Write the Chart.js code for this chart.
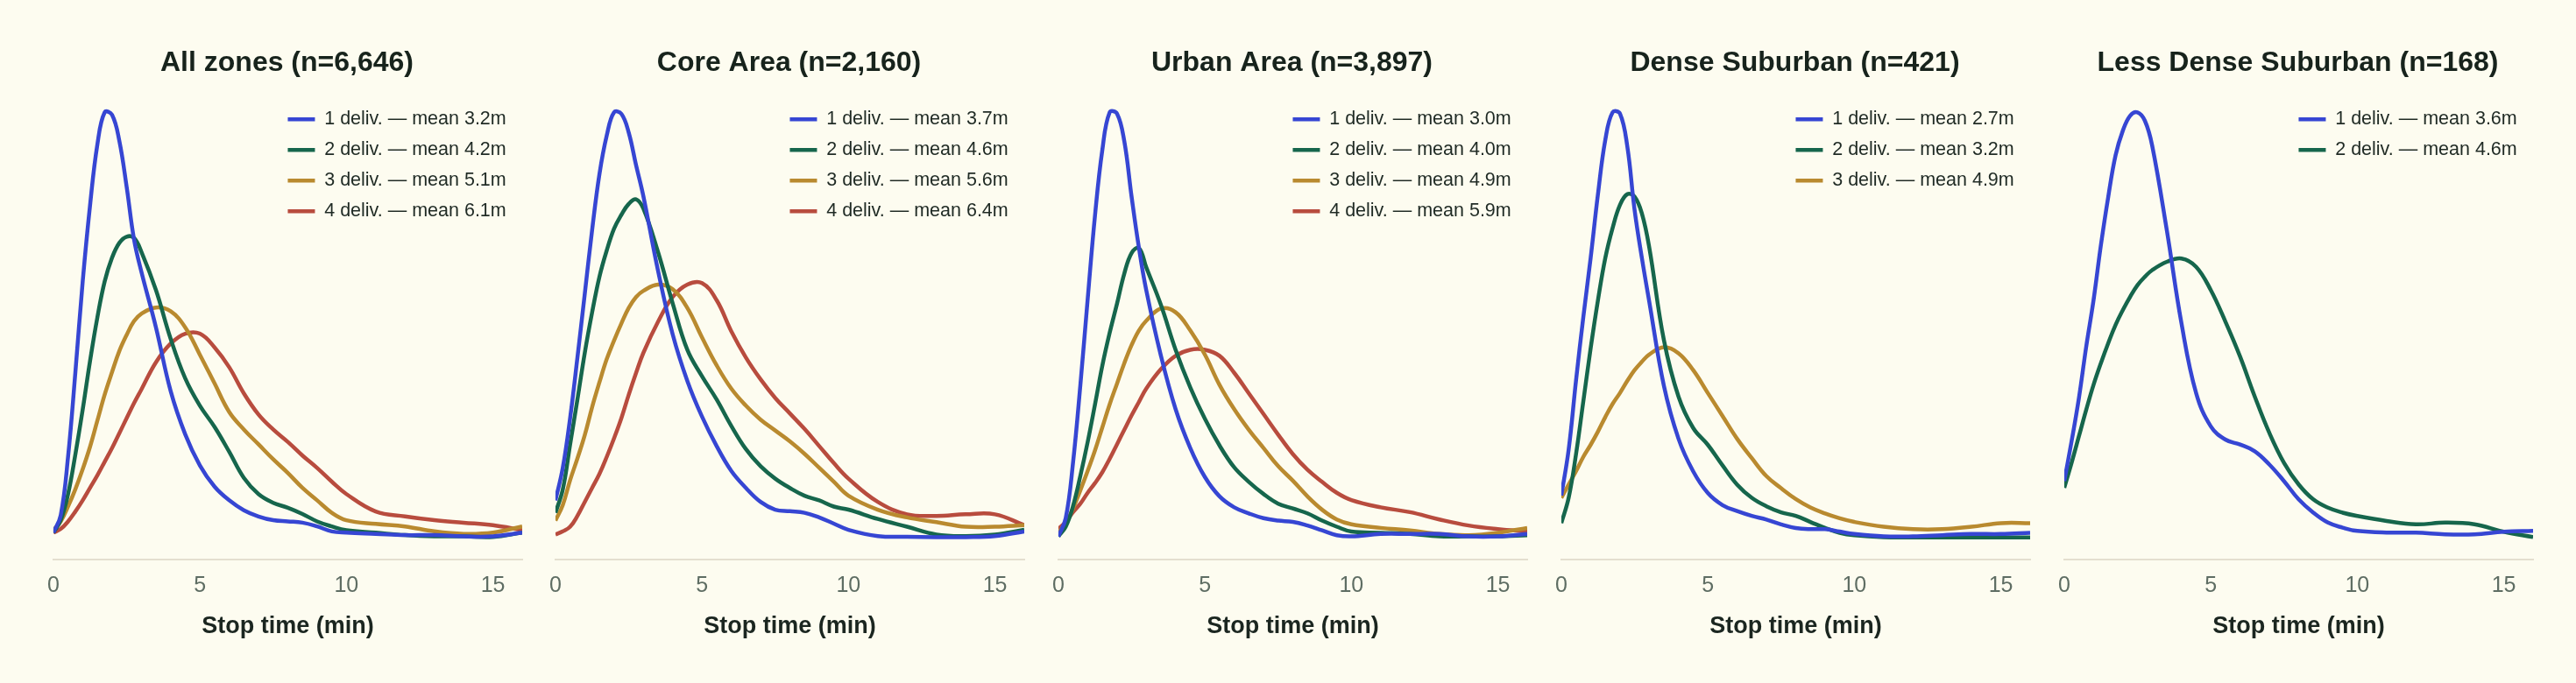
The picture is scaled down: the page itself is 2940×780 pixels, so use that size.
<!DOCTYPE html>
<html>
<head>
<meta charset="utf-8">
<title>Stop time distributions by zone</title>
<script src="https://cdn.jsdelivr.net/npm/chart.js@4.4.1/dist/chart.umd.min.js"></script>
<style>
  html, body { margin: 0; padding: 0; background: #fdfcf0; }
  #wrap { position: relative; width: 2940px; height: 780px; }
  .panel { position: absolute; top: 0; width: 573px; height: 780px; }
</style>
</head>
<body>
<div id="wrap"></div>
<script>
// x grid of the density curves (minutes)
const stopMinutes = [0, 0.25, 0.5, 0.75, 1, 1.25, 1.5, 1.75, 2, 2.25, 2.5, 2.75, 3, 3.5, 4, 4.5, 5, 5.5, 6, 6.5, 7, 7.5, 8, 8.5, 9, 9.5, 10, 11, 12, 13, 14, 15, 16];

const zoneNames = ['All zones', 'Core Area', 'Urban Area', 'Dense Suburban', 'Less Dense Suburban'];
const zoneCounts = [6646, 2160, 3897, 421, 168];

const allZonesMeans = [3.2, 4.2, 5.1, 6.1];
const coreMeans = [3.7, 4.6, 5.6, 6.4];
const urbanMeans = [3.0, 4.0, 4.9, 5.9];
const denseMeans = [2.7, 3.2, 4.9];
const lessDenseMeans = [3.6, 4.6];

// density estimates, one array per delivery count
const allZones1 = [.004, .018, .065, .133, .206, .267, .316, .342, .340, .319, .282, .240, .214, .169, .118, .083, .058, .041, .030, .022, .017, .014, .013, .012, .009, .005, .004, .003, .002, .002, .001, .001, .004];
const allZones2 = [.004, .014, .035, .067, .103, .142, .177, .206, .225, .237, .242, .241, .230, .199, .160, .128, .106, .089, .069, .048, .035, .028, .024, .019, .013, .009, .006, .004, .002, .001, .001, .0005, .004];
const allZones3 = [.006, .013, .025, .039, .055, .073, .094, .115, .133, .150, .163, .174, .180, .185, .182, .169, .147, .124, .101, .087, .075, .063, .052, .040, .030, .020, .014, .011, .009, .005, .003, .004, .009];
const allZones4 = [.004, .007, .013, .021, .030, .040, .050, .061, .072, .084, .096, .108, .119, .141, .156, .164, .164, .153, .137, .116, .099, .087, .077, .066, .056, .045, .035, .021, .017, .014, .012, .010, .006];

const core1 = [.024, .045, .077, .116, .157, .198, .234, .259, .274, .273, .261, .240, .220, .172, .131, .101, .078, .059, .043, .032, .023, .018, .017, .016, .013, .009, .005, .001, .0005, .0003, .0003, .001, .004];
const core2 = [.016, .031, .060, .089, .119, .145, .168, .185, .199, .208, .215, .218, .212, .184, .151, .121, .104, .089, .072, .057, .046, .038, .032, .027, .024, .020, .018, .012, .007, .002, .001, .002, .005];
const core3 = [.011, .021, .037, .051, .066, .084, .100, .115, .127, .138, .148, .155, .159, .163, .160, .148, .129, .111, .096, .085, .076, .069, .062, .054, .045, .036, .027, .018, .013, .010, .007, .007, .008];
const core4 = [.002, .004, .007, .014, .023, .032, .041, .052, .064, .077, .092, .106, .119, .139, .155, .163, .164, .153, .133, .116, .102, .090, .080, .070, .059, .048, .038, .023, .015, .014, .015, .015, .008];

const urban1 = [.001, .016, .062, .126, .197, .266, .320, .351, .350, .327, .281, .239, .204, .150, .106, .074, .050, .034, .025, .020, .016, .014, .013, .010, .006, .002, .001, .003, .003, .003, .001, .001, .003];
const urban2 = [.001, .009, .026, .051, .079, .110, .142, .169, .193, .218, .235, .239, .223, .192, .155, .124, .098, .076, .058, .046, .036, .028, .024, .020, .014, .009, .005, .004, .003, .001, .001, .001, .002];
const urban3 = [.004, .012, .024, .039, .055, .072, .091, .110, .127, .144, .159, .171, .179, .189, .186, .171, .151, .126, .106, .089, .074, .059, .047, .034, .023, .015, .011, .008, .006, .003, .002, .004, .008];
const urban4 = [.007, .013, .021, .028, .037, .045, .054, .065, .077, .089, .101, .112, .123, .139, .150, .155, .155, .150, .136, .119, .102, .085, .069, .056, .046, .037, .031, .025, .021, .015, .010, .007, .005];

const dense1 = [.035, .073, .130, .183, .232, .285, .330, .353, .352, .325, .272, .232, .196, .126, .082, .055, .037, .027, .022, .018, .015, .011, .008, .007, .007, .005, .003, .001, .001, .002, .003, .003, .004];
const dense2 = [.012, .033, .069, .113, .157, .197, .232, .257, .276, .285, .283, .269, .241, .164, .117, .091, .077, .060, .044, .033, .026, .021, .018, .013, .008, .004, .002, .0004, .0002, .0002, .0002, .0002, .0002];
const dense3 = [.033, .044, .055, .067, .077, .088, .100, .111, .120, .130, .139, .146, .152, .158, .153, .139, .120, .101, .082, .066, .051, .041, .032, .025, .020, .016, .013, .009, .007, .007, .009, .012, .012];

const lessDense1 = [.034, .058, .084, .115, .143, .176, .205, .230, .245, .254, .256, .251, .236, .185, .129, .087, .067, .059, .056, .052, .044, .034, .023, .015, .009, .006, .004, .003, .003, .002, .002, .0035, .004];
const lessDense2 = [.030, .045, .061, .077, .092, .105, .117, .128, .137, .145, .152, .157, .161, .166, .168, .163, .149, .130, .109, .085, .063, .045, .032, .023, .018, .015, .013, .010, .008, .009, .008, .0035, .0003];

const deliveryColors = ['#3646d3', '#16664c', '#b98a2f', '#b84c3e'];

const zoneCurves = [
    [allZones1, allZones2, allZones3, allZones4],
    [core1, core2, core3, core4],
    [urban1, urban2, urban3, urban4],
    [dense1, dense2, dense3],
    [lessDense1, lessDense2]
];
const zoneMeans = [allZonesMeans, coreMeans, urbanMeans, denseMeans, lessDenseMeans];

const fontFamily = '"Liberation Sans", Arial, Helvetica, sans-serif';

// legend sits inside the plot, near the top right
const placeLegend = {
    id: 'placeLegend',
    afterLayout(chart) {
        const legend = chart.legend;
        const area = chart.chartArea;
        legend.left = area.left + 254;
        legend.right = legend.left + legend.width;
        legend.top = area.top + 9;
    }
};

const wrap = document.getElementById('wrap');

zoneNames.forEach((name, z) => {
    const holder = document.createElement('div');
    holder.className = 'panel';
    holder.style.left = Math.round(38.5 + 573.9 * z) + 'px';
    const canvas = document.createElement('canvas');
    holder.appendChild(canvas);
    wrap.appendChild(holder);

    const curves = zoneCurves[z];
    const peak = Math.max(...curves.flat());

    new Chart(canvas, {
        type: 'line',
        data: {
            datasets: curves.map((curve, k) => ({
                label: (k + 1) + ' deliv. \u2014 mean ' + zoneMeans[z][k].toFixed(1) + 'm',
                data: curve.map((v, i) => ({ x: stopMinutes[i], y: v })),
                borderColor: deliveryColors[k],
                backgroundColor: deliveryColors[k],
                borderWidth: 4.5,
                pointRadius: 0,
                tension: 0.4,
                fill: false
            }))
        },
        options: {
            responsive: true,
            maintainAspectRatio: false,
            animation: false,
            layout: { padding: { left: 20, right: 16, top: 40, bottom: 44 } },
            scales: {
                x: {
                    type: 'linear',
                    min: 0,
                    max: 16,
                    grid: { display: false, drawTicks: false },
                    border: { display: true, color: '#e4dfcf', width: 2 },
                    ticks: {
                        stepSize: 5,
                        includeBounds: false,
                        padding: 15,
                        maxRotation: 0,
                        color: '#5e6d63',
                        font: { family: fontFamily, size: 25 }
                    },
                    title: {
                        display: true,
                        text: 'Stop time (min)',
                        color: '#1b2620',
                        font: { family: fontFamily, size: 27, weight: 'bold' },
                        padding: { top: 0.4, bottom: 4 }
                    }
                },
                y: {
                    display: false,
                    min: -0.052 * peak,
                    max: 1.052 * peak
                }
            },
            plugins: {
                title: {
                    display: true,
                    text: name + ' (n=' + zoneCounts[z].toLocaleString('en-US') + ')',
                    color: '#17231c',
                    font: { family: fontFamily, size: 32, weight: 'bold' },
                    padding: { top: 12.8, bottom: 11.8 }
                },
                legend: {
                    position: 'chartArea',
                    align: 'start',
                    labels: {
                        usePointStyle: true,
                        pointStyle: 'line',
                        pointStyleWidth: 31,
                        padding: 13.5,
                        color: '#1f2a24',
                        font: { family: fontFamily, size: 21.5 }
                    }
                },
                tooltip: { enabled: false }
            }
        },
        plugins: [placeLegend]
    });
});
</script>
</body>
</html>
